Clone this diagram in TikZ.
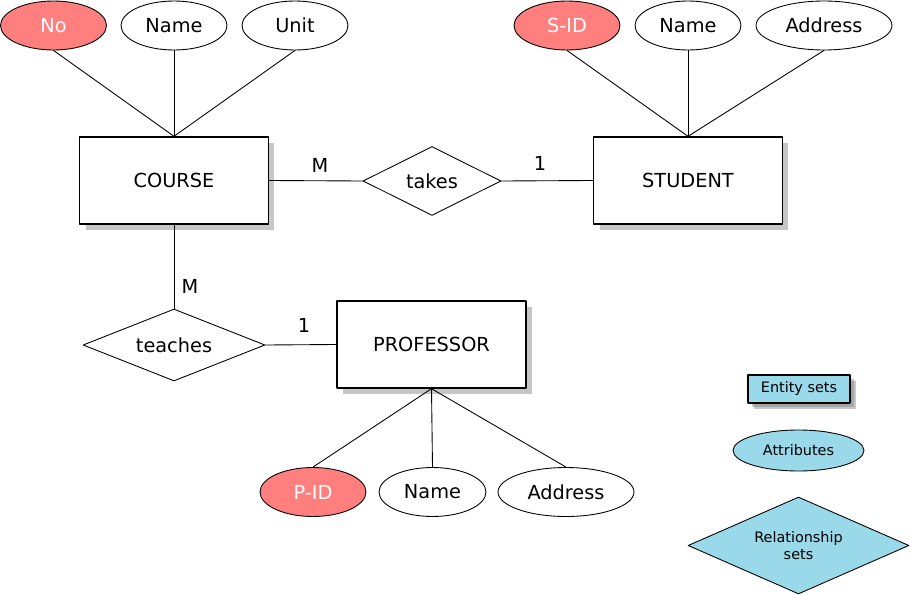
\documentclass[tikz,border=0pt]{standalone}
\usepackage{fontspec}
\setmainfont{DejaVu Sans}
\usetikzlibrary{shapes.geometric,shadows}

\definecolor{keyred}{RGB}{255,127,127}
\definecolor{legblue}{RGB}{153,217,234}

\tikzset{
  entity/.style={draw,line width=0.8pt,fill=white,minimum width=3.78cm,minimum height=1.74cm,
    drop shadow={shadow xshift=0.12cm,shadow yshift=-0.12cm,opacity=0.45},font=\fontsize{11}{13}\selectfont},
  attr/.style={draw,ellipse,line width=0.5pt,fill=white,minimum width=2.12cm,minimum height=0.98cm,inner sep=0pt,
    font=\fontsize{11}{13}\selectfont},
  keyattr/.style={attr,fill=keyred,text=white},
  rel/.style={draw,diamond,line width=0.5pt,fill=white,inner sep=0pt,font=\fontsize{11}{13}\selectfont},
  card/.style={font=\fontsize{11}{13}\selectfont},
  link/.style={line width=0.5pt}
}

\begin{document}
\begin{tikzpicture}[line cap=round,line join=round,x=0.02cm,y=-0.02cm]
\useasboundingbox (0,0) rectangle (910,595);

% course and its attributes
\node[entity] (course) at (174,180.5) {COURSE};
\node[keyattr] (cno) at (53.5,25.5) {No};
\node[attr] (cname) at (174,25.5) {Name};
\node[attr] (cunit) at (295,25.5) {Unit};
\draw[link] (cno.south) -- (course.north);
\draw[link] (cname.south) -- (course.north);
\draw[link] (cunit.south) -- (course.north);

% student and its attributes
\node[entity] (student) at (688,180.5) {STUDENT};
\node[keyattr] (sid) at (567,25.5) {S-ID};
\node[attr] (sname) at (688,25.5) {Name};
\node[attr,minimum width=2.72cm] (saddr) at (824,25.5) {Address};
\draw[link] (sid.south) -- (student.north);
\draw[link] (sname.south) -- (student.north);
\draw[link] (saddr.south) -- (student.north);

% takes
\node[rel,aspect=2,minimum width=2.76cm,minimum height=1.38cm] (takes) at (432,181) {takes};
\draw[link] (course.east) -- (takes.west);
\draw[link] (takes.east) -- (student.west);
\node[card] (m1) at (320,165) {M};
\node[card] (one1) at (540,163) {1};

% professor and its attributes
\node[entity] (prof) at (431.5,344.5) {PROFESSOR};
\node[keyattr] (pid) at (313,492) {P-ID};
\node[attr,minimum width=2.14cm] (pname) at (432.5,492) {Name};
\node[attr,minimum width=2.72cm] (paddr) at (566,492) {Address};
\draw[link] (pid.north) -- (prof.south);
\draw[link] (pname.north) -- (prof.south);
\draw[link] (paddr.north) -- (prof.south);

% teaches
\node[rel,aspect=2.53,minimum width=3.64cm,minimum height=1.44cm] (teaches) at (174,345) {teaches};
\draw[link] (course.south) -- (teaches.north);
\draw[link] (teaches.east) -- (prof.west);
\node[card] (m2) at (190,286) {M};
\node[card] (one2) at (304,325) {1};

% legend
\node[entity,fill=legblue,minimum width=2.04cm,minimum height=0.56cm,font=\fontsize{8.2}{9.5}\selectfont,
  drop shadow={shadow xshift=0.08cm,shadow yshift=-0.08cm,opacity=0.45}] (legent) at (799,389) {Entity sets};
\node[attr,fill=legblue,minimum width=2.62cm,minimum height=0.82cm,font=\fontsize{8.2}{9.5}\selectfont] (legattr) at (798.5,450.5) {Attributes};
\node[rel,aspect=2.28,fill=legblue,minimum width=4.42cm,minimum height=1.94cm,align=center,
  font=\fontsize{8.2}{9.5}\selectfont] (legrel) at (798.5,545.5) {Relationship\\sets};
\end{tikzpicture}
\end{document}
